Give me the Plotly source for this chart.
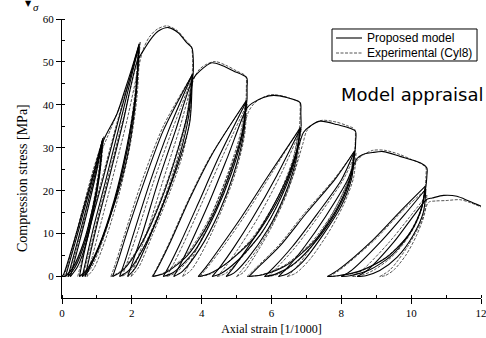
import plotly.graph_objects as go

# Cyclic compression test of concrete cylinder: axial strain [1/1000] vs stress [MPa].
# Each group = successive unloading / reloading curves at one load level,
# the last curve of a group continues along the softening envelope.

# ---------------- Proposed model ----------------
G1_MODEL = [
    [(0, 0), (0.05, 0.6), (0.3, 7), (0.6, 15.5), (0.9, 24), (1.17, 32.2)],
    [(1.17, 32.2), (1.06, 24), (0.88, 16), (0.62, 8), (0.32, 2.2), (0.1, 0)],
    [(0.1, 0), (0.38, 8), (0.65, 16), (0.92, 24), (1.16, 31.8)],
    [(1.16, 31.8), (1.07, 24), (0.9, 16), (0.66, 8), (0.38, 2.2), (0.17, 0)],
    [(0.17, 0), (0.44, 8), (0.7, 16), (0.95, 24), (1.16, 31.6)],
    [(1.16, 31.6), (1.08, 24), (0.92, 16), (0.7, 8), (0.44, 2.2), (0.24, 0)],
    [(0.24, 0), (0.5, 8), (0.75, 16), (0.98, 24), (1.18, 31.5), (1.57, 37.8),
     (1.76, 42.4), (2.0, 48.5), (2.21, 54.2)],
]
G2_MODEL = [
    [(2.21, 54.2), (2.1, 42), (1.85, 30), (1.5, 18), (1.05, 7), (0.7, 1.5), (0.5, 0)],
    [(0.5, 0), (0.62, 5), (0.82, 12), (1.15, 22), (1.6, 36), (2.2, 53.8)],
    [(2.2, 53.8), (2.11, 42), (1.88, 30), (1.56, 19), (1.12, 8), (0.78, 2), (0.58, 0)],
    [(0.58, 0), (0.72, 5), (0.92, 12), (1.24, 22), (1.67, 36), (2.2, 53.6)],
    [(2.2, 53.6), (2.12, 42), (1.92, 30), (1.62, 20), (1.2, 10), (0.85, 3), (0.66, 0)],
    [(0.66, 0), (0.8, 5), (1.0, 12), (1.32, 22), (1.75, 36), (2.15, 50), (2.38, 53.3),
     (2.57, 55.6), (2.76, 57.2), (3.05, 58), (3.33, 56.8), (3.57, 54.5), (3.72, 53.3),
     (3.76, 50.5), (3.76, 47.5)],
]
G3_MODEL = [
    [(3.76, 47.5), (3.6, 38), (3.3, 29), (2.85, 18), (2.3, 8), (1.75, 1.5), (1.45, 0)],
    [(1.45, 0), (1.62, 4), (1.85, 10), (2.35, 22), (2.9, 34), (3.74, 47.2)],
    [(3.74, 47.2), (3.62, 37), (3.36, 28), (2.95, 18), (2.42, 8), (1.92, 1.5), (1.65, 0)],
    [(1.65, 0), (1.82, 4), (2.05, 10), (2.52, 22), (3.05, 34), (3.73, 47)],
    [(3.73, 47), (3.66, 36), (3.4, 28), (3.05, 20), (2.5, 9), (2.1, 2), (1.88, 0)],
    [(1.88, 0), (2.05, 4), (2.3, 10), (2.75, 22), (3.25, 34), (3.75, 46), (3.95, 47.9),
     (4.29, 49.8), (4.6, 49.1), (4.91, 47.9), (5.29, 46.3), (5.3, 44), (5.3, 41.3)],
]
G4_MODEL = [
    [(5.3, 41.3), (5.15, 33), (4.8, 24), (4.3, 14), (3.6, 5), (2.95, 0.8), (2.6, 0)],
    [(2.6, 0), (2.8, 3), (3.1, 8), (3.65, 18), (4.3, 28.5), (5.28, 41)],
    [(5.28, 41), (5.17, 33), (4.85, 24), (4.4, 15), (3.8, 6), (3.2, 1), (2.9, 0)],
    [(2.9, 0), (3.1, 3), (3.4, 8), (3.9, 17), (4.5, 28), (5.27, 40.6)],
    [(5.27, 40.6), (5.2, 33), (4.92, 24), (4.5, 15), (3.95, 6.5), (3.45, 1.2), (3.2, 0)],
    [(3.2, 0), (3.4, 3), (3.7, 8), (4.2, 17), (4.75, 28), (5.3, 39.3), (5.45, 40.4),
     (5.77, 41.7), (6.06, 42.2), (6.44, 41.7), (6.82, 40.5), (6.84, 38), (6.85, 35)],
]
G5_MODEL = [
    [(6.85, 35), (6.65, 27), (6.2, 18), (5.5, 9), (4.7, 3), (4.2, 0.6), (3.9, 0)],
    [(3.9, 0), (4.15, 2.5), (4.55, 7), (5.15, 14), (5.95, 24), (6.83, 34.7)],
    [(6.83, 34.7), (6.67, 27), (6.28, 18.5), (5.7, 10), (5.0, 3.5), (4.55, 0.7), (4.3, 0)],
    [(4.3, 0), (4.55, 2.5), (4.9, 6.5), (5.45, 13.5), (6.15, 23.5), (6.82, 34.3)],
    [(6.82, 34.3), (6.7, 27), (6.38, 19), (5.9, 11), (5.3, 4), (4.92, 0.8), (4.7, 0)],
    [(4.7, 0), (4.95, 2.5), (5.3, 6.5), (5.85, 13.5), (6.45, 23), (6.8, 31), (6.92, 33.6),
     (7.1, 35), (7.39, 36.2), (7.87, 35.4), (8.4, 33.9), (8.41, 31.5), (8.4, 29.6)],
]
G6_MODEL = [
    [(8.4, 29.6), (8.25, 23), (7.85, 15.5), (7.2, 8), (6.4, 2.5), (5.75, 0.4), (5.35, 0)],
    [(5.35, 0), (5.6, 2), (6.25, 7.2), (7.0, 14.8), (7.85, 23), (8.38, 29.3)],
    [(8.38, 29.3), (8.27, 23), (7.92, 16), (7.35, 9), (6.65, 3), (6.1, 0.5), (5.8, 0)],
    [(5.8, 0), (6.05, 2), (6.6, 7), (7.3, 14.5), (8.0, 22.5), (8.37, 29)],
    [(8.37, 29), (8.3, 23), (8.0, 16.5), (7.5, 10), (6.9, 3.5), (6.45, 0.6), (6.2, 0)],
    [(6.2, 0), (6.45, 2), (6.95, 7), (7.55, 14), (8.15, 22), (8.45, 27.5), (8.6, 28.4),
     (8.9, 28.9), (9.2, 29.1), (9.68, 28.0), (10.26, 26.5), (10.45, 25.3), (10.45, 23.5),
     (10.43, 21.4)],
]
G7_MODEL = [
    [(10.43, 21.4), (10.3, 16), (9.95, 10), (9.3, 4.5), (8.5, 1.2), (7.9, 0.2), (7.6, 0)],
    [(7.6, 0), (7.9, 1.5), (8.9, 8.5), (9.7, 15.3), (10.4, 21)],
    [(10.4, 21), (10.3, 16), (10.0, 10.5), (9.45, 5), (8.8, 1.5), (8.25, 0.2), (8.0, 0)],
    [(8.0, 0), (8.3, 1.5), (9.15, 8.3), (9.85, 14.8), (10.42, 20.4)],
    [(10.42, 20.4), (10.35, 15), (10.05, 9.5), (9.6, 4.5), (9.1, 1.4), (8.7, 0.2), (8.45, 0)],
    [(8.45, 0), (8.75, 1.5), (9.5, 8), (10.1, 14.5), (10.45, 18), (10.6, 18.3),
     (10.93, 18.9), (11.31, 18.7), (11.65, 17.6), (12, 16.4)],
]

# ---------------- Experimental (Cyl8) ----------------
G1_EXP = [
    [(0, 0), (0.08, 1), (0.32, 7.5), (0.6, 16), (0.9, 25), (1.2, 32.6)],
    [(1.2, 32.6), (1.1, 25), (0.92, 17), (0.66, 8.5), (0.34, 2.2), (0.06, 0)],
    [(0.06, 0), (0.3, 6.5), (0.58, 15), (0.88, 24), (1.14, 31.2)],
    [(1.14, 31.2), (1.04, 24), (0.87, 16), (0.63, 8), (0.38, 2.5), (0.2, 0)],
    [(0.2, 0), (0.42, 6.5), (0.7, 15), (0.97, 24), (1.12, 29), (1.3, 32.5), (1.6, 38.5),
     (1.9, 45), (2.24, 54.6)],
]
G2_EXP = [
    [(2.24, 54.6), (2.12, 43), (1.9, 31), (1.55, 19), (1.1, 7.5), (0.72, 1.5), (0.45, 0)],
    [(0.45, 0), (0.6, 5), (0.8, 12), (1.12, 22), (1.58, 36), (2.18, 53.2)],
    [(2.18, 53.2), (2.08, 42), (1.86, 30), (1.54, 18.5), (1.15, 8), (0.82, 1.8), (0.6, 0)],
    [(0.6, 0), (0.76, 5), (0.97, 12), (1.3, 22.5), (1.76, 37), (2.22, 52.8)],
    [(2.22, 52.8), (2.15, 42), (1.96, 31), (1.66, 20), (1.26, 9), (0.92, 2), (0.72, 0)],
    [(0.72, 0), (0.88, 5), (1.1, 12), (1.42, 22), (1.85, 36), (2.2, 49), (2.32, 52.8),
     (2.5, 55.8), (2.72, 57.6), (3.0, 58.4), (3.3, 57.3), (3.55, 55), (3.7, 53.6),
     (3.74, 51), (3.73, 47)],
]
G3_EXP = [
    [(3.73, 47), (3.56, 37), (3.25, 28), (2.8, 17.5), (2.25, 7.5), (1.7, 1.4), (1.4, 0)],
    [(1.4, 0), (1.55, 3.5), (1.8, 10), (2.3, 22.5), (2.9, 35), (3.7, 46.6)],
    [(3.7, 46.6), (3.58, 37), (3.3, 27.5), (2.9, 17.5), (2.38, 7.5), (1.98, 1.6), (1.72, 0)],
    [(1.72, 0), (1.9, 4), (2.15, 10), (2.62, 22), (3.15, 34), (3.72, 46.2)],
    [(3.72, 46.2), (3.66, 36.5), (3.44, 28), (3.08, 19.5), (2.58, 9.5), (2.2, 2.2), (1.98, 0)],
    [(1.98, 0), (2.15, 4), (2.42, 10), (2.88, 22), (3.35, 34), (3.8, 46.5), (3.95, 48.4),
     (4.15, 49.5), (4.38, 50.1), (4.7, 49.2), (5.0, 47.9), (5.26, 46.7), (5.28, 44),
     (5.27, 40.8)],
]
G4_EXP = [
    [(5.27, 40.8), (5.1, 33), (4.75, 24), (4.25, 14), (3.55, 5), (2.9, 0.8), (2.58, 0)],
    [(2.58, 0), (2.75, 2.5), (3.05, 7.5), (3.6, 17.5), (4.25, 28), (5.25, 40.5)],
    [(5.25, 40.5), (5.13, 32.5), (4.82, 24), (4.38, 15), (3.82, 6), (3.28, 1), (3.0, 0)],
    [(3.0, 0), (3.2, 3), (3.5, 8), (4.0, 17), (4.6, 28), (5.3, 40.2)],
    [(5.3, 40.2), (5.22, 32.5), (4.98, 24.5), (4.6, 16), (4.1, 7), (3.7, 1.5), (3.45, 0)],
    [(3.45, 0), (3.65, 3), (3.95, 8), (4.42, 17), (4.95, 28), (5.35, 38.5), (5.5, 40.3),
     (5.75, 41.7), (6.0, 42.4), (6.35, 42), (6.6, 41.3), (6.8, 40.7), (6.82, 38), (6.8, 34.6)],
]
G5_EXP = [
    [(6.8, 34.6), (6.6, 27), (6.15, 18), (5.45, 9), (4.7, 3), (4.25, 0.6), (3.95, 0)],
    [(3.95, 0), (4.2, 2.5), (4.62, 7), (5.22, 14), (6.0, 24), (6.78, 34.2)],
    [(6.78, 34.2), (6.63, 27), (6.27, 18.5), (5.75, 10.5), (5.1, 4), (4.7, 0.8), (4.45, 0)],
    [(4.45, 0), (4.7, 2.5), (5.05, 6.5), (5.6, 13.5), (6.25, 23.5), (6.85, 34.4)],
    [(6.85, 34.4), (6.75, 27.5), (6.45, 19.5), (6.0, 11.5), (5.5, 4.5), (5.2, 1), (5.0, 0)],
    [(5.0, 0), (5.25, 2.5), (5.6, 6.5), (6.1, 13.5), (6.6, 23), (6.9, 31), (7.0, 33.8),
     (7.2, 35.6), (7.45, 36.4), (7.85, 36), (8.15, 35.2), (8.38, 34.3), (8.4, 31.5),
     (8.38, 29.2)],
]
G6_EXP = [
    [(8.38, 29.2), (8.22, 23), (7.8, 15.5), (7.15, 8), (6.35, 2.5), (5.7, 0.4), (5.3, 0)],
    [(5.3, 0), (5.55, 2), (6.2, 7.2), (6.95, 14.8), (7.8, 22.8), (8.35, 28.8)],
    [(8.35, 28.8), (8.24, 22.5), (7.9, 16), (7.38, 9.5), (6.75, 3.5), (6.2, 0.6), (5.9, 0)],
    [(5.9, 0), (6.15, 2), (6.7, 7), (7.38, 14.5), (8.05, 22.5), (8.42, 28.8)],
    [(8.42, 28.8), (8.35, 23), (8.08, 17), (7.65, 10.5), (7.1, 4), (6.7, 0.8), (6.45, 0)],
    [(6.45, 0), (6.7, 2), (7.15, 7), (7.7, 14), (8.2, 22), (8.45, 27), (8.6, 28.2),
     (8.9, 29.4), (9.25, 29.4), (9.65, 28.5), (10.0, 27.3), (10.3, 26.2), (10.42, 25.4),
     (10.42, 23), (10.4, 20.2)],
]
G7_EXP = [
    [(10.4, 20.2), (10.25, 15), (9.9, 9.5), (9.25, 4.3), (8.5, 1.1), (7.95, 0.2), (7.65, 0)],
    [(7.65, 0), (7.95, 1.5), (8.95, 8.5), (9.75, 15.3), (10.38, 20)],
    [(10.38, 20), (10.27, 15), (9.98, 10), (9.5, 5), (8.95, 1.6), (8.55, 0.2), (8.3, 0)],
    [(8.3, 0), (8.6, 1.5), (9.35, 7.8), (9.95, 13.8), (10.45, 19)],
    [(10.45, 19), (10.38, 14.5), (10.15, 9.5), (9.85, 5), (9.5, 1.5), (9.25, 0.2), (9.1, 0)],
    [(9.1, 0), (9.4, 1.6), (9.9, 7), (10.3, 13), (10.5, 17.3), (10.7, 17.6), (11.0, 17.7),
     (11.4, 17.9), (11.7, 17.2), (12, 16.2)],
]

MODEL_GROUPS = [G1_MODEL, G2_MODEL, G3_MODEL, G4_MODEL, G5_MODEL, G6_MODEL, G7_MODEL]
EXP_GROUPS = [G1_EXP, G2_EXP, G3_EXP, G4_EXP, G5_EXP, G6_EXP, G7_EXP]

SERIES_NAMES = ["Proposed model", "Experimental (Cyl8)"]


def stack(groups):
    """Join all curves into one x/y series, separated by gaps."""
    xs, ys = [], []
    for group in groups:
        for curve in group:
            for x, y in curve:
                xs.append(x)
                ys.append(y)
            xs.append(None)
            ys.append(None)
    return xs, ys


mx, my = stack(MODEL_GROUPS)
ex, ey = stack(EXP_GROUPS)

SERIF = "Liberation Serif"
SANS = "Liberation Sans"
MODEL_LINE = dict(color="black", width=1.1)
EXP_LINE = dict(color="#2a2a2a", width=0.8, dash="3px,1.5px")

fig = go.Figure()
fig.add_trace(go.Scatter(
    x=ex, y=ey, mode="lines", name=SERIES_NAMES[1],
    line=dict(**EXP_LINE, shape="spline", smoothing=0.8),
    connectgaps=False, hoverinfo="skip", showlegend=False,
))
fig.add_trace(go.Scatter(
    x=mx, y=my, mode="lines", name=SERIES_NAMES[0],
    line=dict(**MODEL_LINE, shape="spline", smoothing=0.8),
    connectgaps=False, hoverinfo="skip", showlegend=False,
))

axis_common = dict(
    showline=True, linecolor="black", linewidth=1, mirror=False,
    showgrid=False, zeroline=False,
    ticks="outside", ticklen=5, tickwidth=1, tickcolor="black",
    tickfont=dict(family=SERIF, size=11, color="black"),
    ticklabeloverflow="allow",
)

fig.update_xaxes(
    range=[0, 12], tickmode="linear", tick0=0, dtick=2,
    minor=dict(ticks="inside", ticklen=3, tickcolor="black", tickmode="linear", tick0=0, dtick=1),
    title=dict(text="Axial strain [1/1000]", font=dict(family=SERIF, size=12, color="black"),
               standoff=6),
    **axis_common,
)
fig.update_yaxes(
    range=[-5, 60], tickmode="linear", tick0=0, dtick=10,
    minor=dict(ticks="inside", ticklen=3, tickcolor="black", tickmode="linear", tick0=0, dtick=5),
    **axis_common,
)

# Boxed key drawn in paper coordinates
KEY_X0, KEY_X1, KEY_Y0, KEY_Y1 = 0.6444, 0.9905, 0.8495, 0.9642
KEY_ROWS = [0.9319, 0.8781]
KEY_LINE_X = (0.654, 0.716)
KEY_TEXT_X = 0.724

shapes = [
    dict(type="rect", xref="paper", yref="paper", x0=KEY_X0, x1=KEY_X1, y0=KEY_Y0, y1=KEY_Y1,
         line=dict(color="black", width=1), fillcolor="white", layer="above"),
    dict(type="line", xref="paper", yref="paper", x0=KEY_LINE_X[0], x1=KEY_LINE_X[1],
         y0=KEY_ROWS[0], y1=KEY_ROWS[0], line=MODEL_LINE, layer="above"),
    dict(type="line", xref="paper", yref="paper", x0=KEY_LINE_X[0], x1=KEY_LINE_X[1],
         y0=KEY_ROWS[1], y1=KEY_ROWS[1], line=EXP_LINE, layer="above"),
]

annotations = [
    dict(text=SERIES_NAMES[0], xref="paper", yref="paper", x=KEY_TEXT_X, y=KEY_ROWS[0],
         xanchor="left", yanchor="middle", showarrow=False,
         font=dict(family=SANS, size=12, color="black")),
    dict(text=SERIES_NAMES[1], xref="paper", yref="paper", x=KEY_TEXT_X, y=KEY_ROWS[1],
         xanchor="left", yanchor="middle", showarrow=False,
         font=dict(family=SANS, size=12, color="black")),
    dict(text="Compression stress [MPa]", xref="paper", yref="paper", x=-0.0955, y=0.43,
         xanchor="center", yanchor="middle", textangle=-90, showarrow=False,
         font=dict(family=SERIF, size=14, color="black")),
    dict(text="Model appraisal", xref="paper", yref="paper", x=0.662, y=0.728,
         xanchor="left", yanchor="middle", showarrow=False,
         font=dict(family="DejaVu Sans", size=18, color="black")),
    dict(text="▼", xref="paper", yref="paper", x=-0.0811, y=1.056,
         xanchor="center", yanchor="middle", showarrow=False,
         font=dict(family="DejaVu Sans", size=8, color="black")),
    dict(text="<i>σ</i>", xref="paper", yref="paper", x=-0.061, y=1.042,
         xanchor="center", yanchor="middle", showarrow=False,
         font=dict(family=SERIF, size=11, color="black")),
]

fig.update_layout(
    width=486, height=338,
    margin=dict(l=62, r=5, t=19, b=40, autoexpand=False),
    paper_bgcolor="white", plot_bgcolor="white",
    showlegend=False,
    shapes=shapes,
    annotations=annotations,
)

fig.write_html("out.html")
